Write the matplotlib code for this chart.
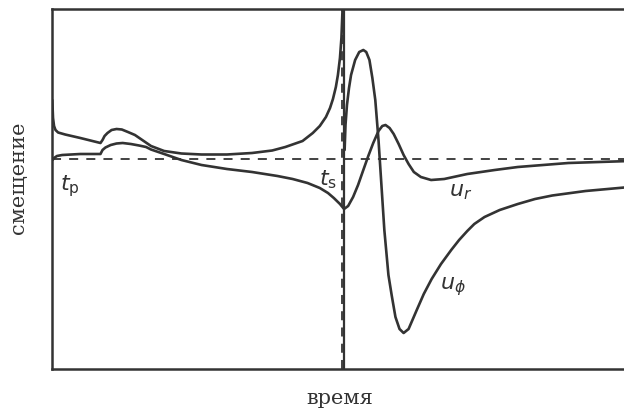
import matplotlib
matplotlib.use('Agg')
import matplotlib.pyplot as plt
import numpy as np

# time in units of t_s, displacement in arbitrary units
t_p = 0.166
t_s = 1.0

# u_phi before t_s (goes to infinity at t_s)
uphi_left_t = [0.001, 0.0035, 0.007, 0.012, 0.021, 0.045, 0.097, 0.166,
               0.173, 0.180, 0.190, 0.204, 0.221, 0.239, 0.260, 0.284, 0.304,
               0.339, 0.384, 0.443, 0.512, 0.599, 0.685, 0.754, 0.799, 0.858,
               0.893, 0.917, 0.938, 0.952, 0.962, 0.972, 0.979, 0.986, 0.991,
               0.995]
uphi_left_y = [1.18, 0.82, 0.66, 0.58, 0.53, 0.49, 0.42, 0.32,
               0.38, 0.46, 0.52, 0.58, 0.60, 0.59, 0.54, 0.48, 0.40,
               0.26, 0.16, 0.11, 0.09, 0.09, 0.12, 0.17, 0.24, 0.36,
               0.52, 0.66, 0.84, 1.02, 1.20, 1.44, 1.68, 2.02, 2.42,
               3.02]

# u_phi after t_s
uphi_right_t = [1.002, 1.005, 1.010, 1.017, 1.024, 1.038, 1.052, 1.066, 1.076, 1.087,
                1.097, 1.107, 1.118, 1.128, 1.138, 1.152, 1.163, 1.176, 1.190, 1.204,
                1.221, 1.249, 1.273, 1.300, 1.332, 1.367, 1.394, 1.422, 1.446, 1.481,
                1.533, 1.595, 1.654, 1.713, 1.827, 1.979]
uphi_right_y = [0.18, 0.68, 1.08, 1.42, 1.68, 1.98, 2.14, 2.18, 2.14, 1.98,
                1.62, 1.18, 0.38, -0.52, -1.42, -2.32, -2.72, -3.16, -3.40, -3.48,
                -3.40, -3.02, -2.70, -2.40, -2.10, -1.82, -1.62, -1.44, -1.30, -1.16,
                -1.02, -0.90, -0.80, -0.73, -0.64, -0.56]

# u_r, continuous through the cusp at t_s
ur_t = [0.002, 0.007, 0.017, 0.035, 0.097, 0.166,
        0.173, 0.183, 0.201, 0.221, 0.242, 0.270, 0.298, 0.322,
        0.339, 0.384, 0.443, 0.512, 0.599, 0.685, 0.772, 0.824, 0.875,
        0.917, 0.945, 0.965, 0.986, 1.0,
        1.014, 1.031, 1.048, 1.066, 1.083, 1.100, 1.118, 1.131, 1.142, 1.156,
        1.170, 1.187, 1.204, 1.221, 1.239, 1.263, 1.298, 1.343, 1.422, 1.516,
        1.595, 1.768, 1.979]
ur_y = [-0.02, 0.02, 0.06, 0.08, 0.10, 0.10,
        0.18, 0.23, 0.28, 0.31, 0.32, 0.30, 0.27, 0.24,
        0.19, 0.10, -0.02, -0.12, -0.20, -0.26, -0.34, -0.40, -0.48,
        -0.58, -0.68, -0.78, -0.90, -1.00,
        -0.94, -0.76, -0.52, -0.22, 0.06, 0.32, 0.56, 0.66, 0.68, 0.62,
        0.50, 0.30, 0.08, -0.10, -0.26, -0.36, -0.42, -0.40, -0.30, -0.22,
        -0.16, -0.08, -0.04]

ink = '#333333'
lw = 1.9

fig = plt.figure(figsize=(6.24, 4.17), dpi=100)
ax = fig.add_axes([52/624, 48/417, 1 - 52/624 + 0.01, 360/417])

for tt, yy in [(uphi_left_t, uphi_left_y), (uphi_right_t, uphi_right_y), (ur_t, ur_y)]:
    ax.plot(tt, yy, color=ink, lw=lw, solid_capstyle='round', solid_joinstyle='round')

# zero line and S-wave arrival
ax.axhline(0, color=ink, lw=1.3, ls=(0, (5, 4.5)))
ax.axvline(t_s, color=ink, lw=1.6)
ax.axvline(t_s - 0.008, color=ink, lw=1.3, ls=(0, (5, 4)))

ax.set_xlim(0, 1.98)
ax.set_ylim(-4.2, 3.0)
ax.set_xticks([])
ax.set_yticks([])
ax.spines['right'].set_visible(False)
for s in ['left', 'top', 'bottom']:
    ax.spines[s].set_linewidth(1.8)
    ax.spines[s].set_color(ink)

lab = dict(color=ink, fontsize=16, va='center', ha='left')
ax.text(0.028, -0.55, r'$t_{\mathrm{p}}$', **lab)
ax.text(0.915, -0.42, r'$t_{\mathrm{s}}$', **lab)
ax.text(1.36, -0.66, r'$u_{r}$', **lab)
ax.text(1.33, -2.56, r'$u_{\phi}$', **lab)

fig.text(0.545, 0.045, 'время', family='DejaVu Serif', fontsize=15, color=ink,
         ha='center', va='center')
fig.text(0.029, 0.573, 'смещение', family='DejaVu Serif', fontsize=15, color=ink,
         ha='center', va='center', rotation=90)

fig.savefig('out.png', dpi=100)
